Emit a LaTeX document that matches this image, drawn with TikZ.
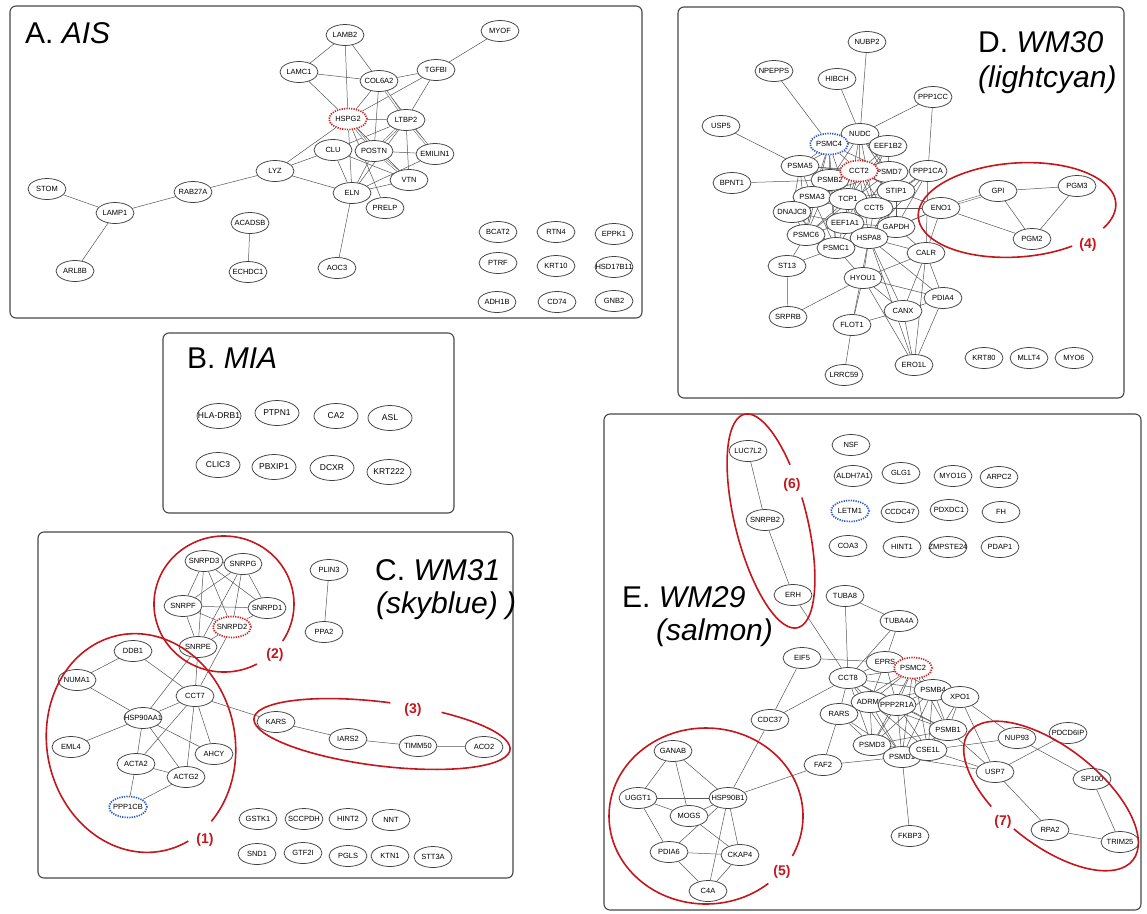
\documentclass[tikz,border=0pt]{standalone}
\usepackage{fontspec}
\setmainfont{Liberation Sans}
\usetikzlibrary{shapes.geometric}
\definecolor{EdgeGray}{RGB}{85,85,85}
\definecolor{FrameGray}{RGB}{70,70,70}
\definecolor{GroupRed}{RGB}{196,22,28}
\definecolor{HubRed}{RGB}{205,30,30}
\definecolor{HubBlue}{RGB}{40,85,205}
\pgfdeclarelayer{edges}
\pgfsetlayers{edges,main}

\begin{document}
\begin{tikzpicture}[x=1pt,y=-1pt,
    gene/.style={ellipse,draw=black!75,fill=white,line width=0.75pt,
      minimum width=38pt,minimum height=21pt,inner sep=0pt,
      font=\fontsize{7.5}{8}\selectfont,
      execute at begin node={\hbox to 0pt\bgroup\hss},
      execute at end node={\hss\egroup}},
    geneB/.style={gene,minimum width=44pt,minimum height=25pt,
      font=\fontsize{8.5}{9}\selectfont},
    hubred/.style={gene,draw=HubRed,dash pattern=on 1.2pt off 1.2pt,line width=1.7pt},
    hubblue/.style={gene,draw=HubBlue,dash pattern=on 1.2pt off 1.2pt,line width=1.7pt},
    link/.style={draw=EdgeGray,line width=0.5pt},
    twin/.style={link,double=white,double distance=1.3pt},
    panel/.style={draw=FrameGray,line width=1.1pt,rounded corners=6pt},
    heading/.style={anchor=base west,inner sep=0pt,font=\fontsize{30}{34}\selectfont},
    group/.style={draw=GroupRed,line width=1.6pt},
    grouptag/.style={text=GroupRed,inner sep=1pt,font=\bfseries\fontsize{14}{16}\selectfont}
  ]
  \useasboundingbox (0,0) rectangle (1147,913);

  % panels
  \draw[panel] (10,6) rectangle (642,318);
  \draw[panel] (163,333) rectangle (454,513);
  \draw[panel] (38,532) rectangle (513,878);
  \draw[panel] (678,7) rectangle (1124,398);
  \draw[panel] (604,414) rectangle (1141,910);

  \node[heading] (titleA) at (25,43) {A. \textit{AIS}};
  \node[heading] (titleB) at (187,368) {B. \textit{MIA}};
  \node[heading] (titleC) at (375,580) {C. \textit{WM31}};
  \node[heading] (subC) at (376,613) {\textit{(skyblue) )}};
  \node[heading] (titleD) at (978,52) {D. \textit{WM30}};
  \node[heading] (subD) at (978,87) {\textit{(lightcyan)}};
  \node[heading] (titleE) at (622,607) {E. \textit{WM29}};
  \node[heading] (subE) at (656,640) {\textit{(salmon)}};

  % A. AIS
  \foreach \n/\x/\y in {LAMB2/345/35, MYOF/500/31, LAMC1/299/72, COL6A2/379/81,
      TGFBI/436/70, LTBP2/406/120, CLU/333/150, POSTN/374/151, EMILIN1/435/154,
      LYZ/275/171, VTN/409/180, ELN/352/193, PRELP/385/208, STOM/47/189,
      RAB27A/193/192, LAMP1/115/213, ACADSB/250/223, ECHDC1/248/272, AOC3/337/268,
      ARL8B/75/271, BCAT2/498/232, RTN4/556/232, EPPK1/614/234, PTRF/498/263,
      KRT10/556/266, HSD17B11/614/267, ADH1B/497/302, CD74/557/302, GNB2/614/301}
    \node[gene] (\n) at (\x,\y) {\n};
  \node[hubred] (HSPG2) at (348,119) {HSPG2};

  % B. MIA
  \foreach \n/\x/\y in {HLA-DRB1/219/416, PTPN1/277/413, CA2/336/416, ASL/390/418,
      CLIC3/218/465, PBXIP1/274/467, DCXR/332/468, KRT222/389/472}
    \node[geneB] (\n) at (\x,\y) {\n};

  % C. WM31
  \foreach \n/\x/\y in {SNRPD3/204/561, SNRPG/243/564, SNRPF/183/606, SNRPD1/267/608,
      SNRPE/198/647, PLIN3/329/570, PPA2/324/632, DDB1/133/651, NUMA1/77/680,
      CCT7/195/696, HSP90AA1/143/718, KARS/276/722, IARS2/348/739, TIMM50/418/746,
      ACO2/484/747, EML4/71/747, AHCY/214/754, ACTA2/136/764, ACTG2/186/777,
      GSTK1/258/819, SCCPDH/304/819, HINT2/348/819, NNT/391/820, SND1/257/854,
      GTF2I/303/853, PGLS/348/856, KTN1/390/856, STT3A/433/857}
    \node[gene] (\n) at (\x,\y) {\n};
  \node[hubred] (SNRPD2) at (232,627) {SNRPD2};
  \node[hubblue] (PPP1CB) at (128,807) {PPP1CB};

  % D. WM30
  \foreach \n/\x/\y in {NUBP2/867/42, NPEPPS/774/71, HIBCH/837/79, PPP1CC/933/97,
      USP5/721/126, NUDC/860/134, EEF1B2/888/146, PSMA5/800/166, PSMD7/889/172,
      PPP1CA/928/171, BPNT1/732/183, PSMB2/830/180, STIP1/896/191, GPI/998/191,
      PGM3/1077/186, PSMA3/812/197, TCP1/848/199, CCT5/874/208, ENO1/941/208,
      DNAJC8/792/212, EEF1A1/845/223, GAPDH/896/227, PSMC6/806/235, HSPA8/869/238,
      PGM2/1032/239, PSMC1/836/248, CALR/926/253, ST13/787/266, HYOU1/863/278,
      PDIA4/943/298, CANX/903/311, SRPRB/788/317, FLOT1/852/325, ERO1L/914/365,
      LRRC59/844/375, KRT80/984/358, MLLT4/1029/358, MYO6/1074/358}
    \node[gene] (\n) at (\x,\y) {\n};
  \node[hubblue] (PSMC4) at (829,144) {PSMC4};
  \node[hubred] (CCT2) at (859,171) {CCT2};

  % E. WM29
  \foreach \n/\x/\y in {LUC7L2/748/451, NSF/851/445, ALDH7A1/853/476, GLG1/901/473,
      MYO1G/953/476, ARPC2/999/477, CCDC47/900/512, PDXDC1/949/510, FH/1001/512,
      COA3/848/546, HINT1/902/547, ZMPSTE24/948/547, PDAP1/1000/547, SNRPB2/765/520,
      ERH/793/595, TUBA8/845/596, TUBA4A/899/621, EIF5/802/658, EPRS/885/662,
      CCT8/848/678, PSMB4/933/690, XPO1/960/697, ADRM1/870/702, PPP2R1A/897/705,
      RARS/839/714, CDC37/770/720, PSMB1/948/730, PDCD6IP/1068/733, NUP93/1017/738,
      PSMD3/872/745, PSMD1/902/757, CSE1L/928/750, FAF2/823/765, USP7/995/772,
      SP100/1092/779, GANAB/673/751, UGGT1/638/798, HSP90B1/728/798, MOGS/689/816,
      PDIA6/669/852, CKAP4/740/855, C4A/708/891, FKBP3/910/836, RPA2/1050/830,
      TRIM25/1120/842}
    \node[gene] (\n) at (\x,\y) {\n};
  \node[hubblue] (LETM1) at (850,511) {LETM1};
  \node[hubred] (PSMC2) at (913,668) {PSMC2};

  \begin{pgfonlayer}{edges}
    % A
    \foreach \a/\b in {LAMB2/LAMC1, LAMB2/COL6A2, LAMB2/HSPG2, LAMC1/COL6A2,
        LAMC1/HSPG2, MYOF/TGFBI, TGFBI/COL6A2, TGFBI/HSPG2, TGFBI/LTBP2,
        COL6A2/HSPG2, COL6A2/POSTN, COL6A2/EMILIN1, HSPG2/LTBP2, HSPG2/LYZ,
        HSPG2/ELN, HSPG2/VTN, HSPG2/PRELP, LTBP2/CLU, LTBP2/VTN, LTBP2/ELN,
        CLU/LYZ, CLU/ELN, CLU/VTN, POSTN/EMILIN1, POSTN/ELN, EMILIN1/ELN,
        VTN/ELN, LYZ/ELN, LYZ/RAB27A, ELN/AOC3, RAB27A/LAMP1, STOM/LAMP1,
        LAMP1/ARL8B, ACADSB/ECHDC1}
      \draw[link] (\a) -- (\b);
    \foreach \a/\b in {COL6A2/LTBP2, LTBP2/EMILIN1, HSPG2/POSTN, POSTN/VTN, LTBP2/POSTN}
      \draw[twin] (\a) -- (\b);
    % C
    \foreach \a/\b in {SNRPD3/SNRPG, SNRPD3/SNRPF, SNRPD3/SNRPE, SNRPD3/SNRPD2,
        SNRPD3/SNRPD1, SNRPG/SNRPF, SNRPG/SNRPD1, SNRPG/SNRPE, SNRPG/SNRPD2,
        SNRPF/SNRPD1, SNRPF/SNRPD2, SNRPF/SNRPE, SNRPD1/SNRPD2, SNRPD2/SNRPE,
        SNRPE/CCT7, SNRPD2/CCT7, SNRPE/HSP90AA1, PLIN3/PPA2, DDB1/NUMA1, DDB1/CCT7,
        NUMA1/HSP90AA1, CCT7/HSP90AA1, CCT7/ACTA2, CCT7/ACTG2, CCT7/AHCY, CCT7/KARS,
        HSP90AA1/EML4, HSP90AA1/ACTA2, HSP90AA1/ACTG2, HSP90AA1/AHCY, ACTA2/ACTG2,
        ACTA2/PPP1CB, ACTG2/PPP1CB, KARS/IARS2, IARS2/TIMM50, TIMM50/ACO2}
      \draw[link] (\a) -- (\b);
    % D
    \foreach \a/\b in {NUBP2/NUDC, NPEPPS/PSMC4, HIBCH/NUDC, PPP1CC/NUDC,
        PPP1CC/PPP1CA, USP5/PSMA5, BPNT1/PSMB2,
        NUDC/PSMC4, NUDC/EEF1B2, NUDC/CCT2, NUDC/PSMB2, NUDC/PSMA5, NUDC/TCP1,
        NUDC/CCT5, NUDC/STIP1, NUDC/PSMD7, PSMC4/PSMA5, PSMC4/PSMB2, PSMC4/CCT2,
        PSMC4/PSMD7, PSMC4/PSMA3, PSMC4/PSMC6, PSMC4/PSMC1, PSMC4/TCP1,
        EEF1B2/CCT2, EEF1B2/EEF1A1, EEF1B2/PSMD7, EEF1B2/TCP1, PSMA5/PSMB2,
        PSMA5/PSMA3, PSMA5/CCT2, PSMA5/PSMD7, PSMA5/PSMC6, PSMA5/DNAJC8,
        CCT2/PSMB2, CCT2/PSMD7, CCT2/TCP1, CCT2/CCT5, CCT2/STIP1, CCT2/EEF1A1,
        CCT2/HSPA8, CCT2/GAPDH, PSMD7/PSMB2, PSMD7/PSMA3, PSMD7/PSMC6,
        PSMD7/PSMC1, PSMD7/STIP1, PSMB2/PSMA3, PSMB2/PSMC6, PSMB2/PSMC1,
        PSMB2/DNAJC8, PSMB2/TCP1, STIP1/TCP1, STIP1/CCT5, STIP1/HSPA8,
        STIP1/GAPDH, STIP1/ENO1, PSMA3/PSMC6, PSMA3/PSMC1, PSMA3/DNAJC8,
        PSMA3/TCP1, TCP1/CCT5, TCP1/EEF1A1, TCP1/HSPA8, TCP1/DNAJC8, TCP1/GAPDH,
        TCP1/PSMC6, CCT5/EEF1A1, CCT5/HSPA8, CCT5/GAPDH, CCT5/ENO1, CCT5/PPP1CA,
        DNAJC8/PSMC6, DNAJC8/EEF1A1, DNAJC8/PSMC1, EEF1A1/HSPA8, EEF1A1/GAPDH,
        EEF1A1/PSMC6, EEF1A1/PSMC1, GAPDH/HSPA8, GAPDH/ENO1, GAPDH/CALR,
        GAPDH/PPP1CA, PSMC6/PSMC1, PSMC6/ST13, HSPA8/PSMC1, HSPA8/CALR,
        HSPA8/HYOU1, HSPA8/CANX, HSPA8/PDIA4, HSPA8/FLOT1, HSPA8/ERO1L, HSPA8/ENO1,
        PSMC1/ST13, PSMC1/HYOU1, PPP1CA/CALR, PPP1CA/HSPA8, PPP1CA/STIP1,
        ENO1/PGM2, GPI/PGM3, GPI/PGM2, PGM3/PGM2, ENO1/CALR, ST13/SRPRB,
        HYOU1/SRPRB, HYOU1/CALR, HYOU1/PDIA4, HYOU1/CANX, HYOU1/ERO1L, HYOU1/FLOT1,
        CALR/CANX, CALR/PDIA4, CALR/ERO1L, PDIA4/CANX, PDIA4/ERO1L, CANX/FLOT1,
        CANX/ERO1L, FLOT1/LRRC59}
      \draw[link] (\a) -- (\b);
    \draw[twin] (ENO1) -- (GPI);
    % E
    \foreach \a/\b in {LUC7L2/SNRPB2, SNRPB2/ERH, ERH/CCT8, TUBA8/TUBA4A, TUBA8/CCT8,
        TUBA4A/EPRS, TUBA4A/CCT8, EIF5/EPRS, EIF5/CDC37, CDC37/CCT8, CDC37/HSP90B1,
        CCT8/EPRS, CCT8/PSMC2, CCT8/ADRM1, CCT8/PPP2R1A, CCT8/RARS, CCT8/PSMD3,
        CCT8/PSMB4, CCT8/PSMD1, CCT8/PSMB1, EPRS/PSMC2, EPRS/ADRM1, EPRS/PPP2R1A,
        EPRS/PSMB4, PSMC2/PSMB4, PSMC2/ADRM1, PSMC2/PPP2R1A, PSMC2/PSMD3,
        PSMC2/PSMD1, PSMC2/CSE1L, PSMC2/PSMB1, PSMC2/RARS, PSMB4/XPO1,
        PSMB4/PPP2R1A, PSMB4/PSMB1, PSMB4/PSMD3, PSMB4/PSMD1, PSMB4/CSE1L,
        PSMB4/ADRM1, XPO1/PSMB1, XPO1/USP7, XPO1/NUP93, XPO1/CSE1L, ADRM1/PPP2R1A,
        ADRM1/PSMD3, ADRM1/PSMD1, ADRM1/RARS, ADRM1/PSMB1, ADRM1/CSE1L,
        PPP2R1A/PSMD3, PPP2R1A/PSMD1, PPP2R1A/PSMB1, PPP2R1A/CSE1L, RARS/FAF2,
        RARS/PSMD3, RARS/PSMD1, PSMB1/CSE1L, PSMB1/PSMD1, PSMB1/PSMD3, PSMB1/USP7,
        PSMD3/PSMD1, PSMD3/CSE1L, CSE1L/PSMD1, CSE1L/NUP93, CSE1L/USP7,
        PSMD1/FAF2, PSMD1/FKBP3, PSMD1/USP7, FAF2/HSP90B1, NUP93/SP100,
        PDCD6IP/USP7, USP7/RPA2, RPA2/TRIM25, SP100/TRIM25, GANAB/UGGT1,
        GANAB/MOGS, GANAB/HSP90B1, UGGT1/HSP90B1, UGGT1/MOGS, UGGT1/PDIA6,
        MOGS/HSP90B1, MOGS/CKAP4, HSP90B1/PDIA6, HSP90B1/CKAP4, HSP90B1/C4A,
        PDIA6/CKAP4, PDIA6/C4A, CKAP4/C4A}
      \draw[link] (\a) -- (\b);
  \end{pgfonlayer}

  % groups
  \draw[group,rotate around={12:(141,743)}] (141,743) ++(74:94 and 110)
    arc[start angle=74,end angle=416,x radius=94,y radius=110];
  \draw[group] (224,604) ++(62:70 and 68)
    arc[start angle=62,end angle=393,x radius=70,y radius=68];
  \draw[group,rotate around={-7:(382,734)}] (382,734) ++(-64:129 and 32)
    arc[start angle=-64,end angle=272,x radius=129,y radius=32];
  \draw[group,rotate around={4:(1017,210)}] (1017,210) ++(58:99 and 47)
    arc[start angle=58,end angle=391,x radius=99,y radius=47];
  \draw[group] (706,816) ++(50:97 and 88)
    arc[start angle=50,end angle=387,x radius=97,y radius=88];
  \draw[group,rotate around={-76:(771,521)}] (771,521) ++(262:110 and 36)
    arc[start angle=262,end angle=603,x radius=110,y radius=36];
  \draw[group,rotate around={-38:(1051,796)}] (1051,796) ++(113:104 and 49)
    arc[start angle=113,end angle=455,x radius=104,y radius=49];

  \node[grouptag] (tag1) at (205,840) {(1)};
  \node[grouptag] (tag2) at (275,655) {(2)};
  \node[grouptag] (tag3) at (413,710) {(3)};
  \node[grouptag] (tag4) at (1088,245) {(4)};
  \node[grouptag] (tag5) at (782,872) {(5)};
  \node[grouptag] (tag6) at (792,485) {(6)};
  \node[grouptag] (tag7) at (1003,822) {(7)};
\end{tikzpicture}
\end{document}
